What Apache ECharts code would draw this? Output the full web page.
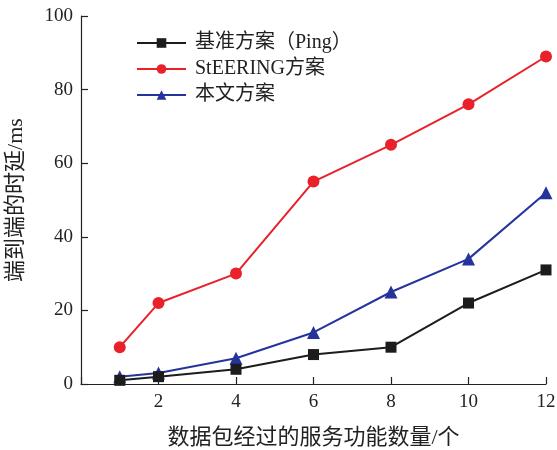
<!DOCTYPE html>
<html>
<head>
<meta charset="utf-8">
<script src="https://cdn.jsdelivr.net/npm/echarts@6/dist/echarts.min.js"></script>
<style>
  html, body { margin: 0; padding: 0; background: #fff; }
  #chart { width: 557px; height: 450px; }
</style>
</head>
<body>
<div id="chart"></div>
<script>
// Number of service functions traversed
const functionCounts = [1, 2, 4, 6, 8, 10, 12];
// End-to-end latency (ms) per scheme
const baselinePing = [1, 2, 4, 8, 10, 22, 31];
const steering = [10, 22, 30, 55, 65, 76, 89];
const proposed = [2, 3, 7, 14, 25, 34, 52];

const seriesNames = ['基准方案（Ping）', 'StEERING方案', '本文方案'];
const xAxisName = '数据包经过的服务功能数量/个';
const yAxisName = '端到端的时延/ms';

const serif = '"Liberation Serif", "DejaVu Serif", "Noto Sans CJK SC", serif';
const cjk = '"Liberation Serif", "Noto Sans CJK SC", serif';

function pairs(ys) {
  return functionCounts.map((x, i) => [x, ys[i]]);
}

const chart = echarts.init(document.getElementById('chart'));
chart.setOption({
  animation: false,
  backgroundColor: '#fff',
  grid: {
    left: 81, right: 11, top: 16, bottom: 66,
    containLabel: false,
    outerBoundsMode: 'none'
  },
  legend: {
    orient: 'vertical',
    left: 136,
    top: 33,
    padding: 0,
    itemWidth: 49,
    itemHeight: 12,
    itemGap: 6,
    textStyle: { fontFamily: cjk, fontSize: 20, color: '#222', padding: [0, 0, 0, 4] },
    data: seriesNames
  },
  xAxis: {
    type: 'value',
    min: 0,
    max: 12,
    interval: 2,
    name: xAxisName,
    nameLocation: 'middle',
    nameGap: 43,
    nameTextStyle: { fontFamily: cjk, fontSize: 22, color: '#222' },
    axisLine: { lineStyle: { color: '#222', width: 1.2 } },
    axisTick: { inside: true, length: 7, lineStyle: { color: '#222', width: 1.2 } },
    axisLabel: {
      fontFamily: serif, fontSize: 19, color: '#222', margin: 9,
      formatter: v => (v === 0 ? '' : String(v))
    },
    splitLine: { show: false }
  },
  yAxis: {
    type: 'value',
    min: 0,
    max: 100,
    interval: 20,
    name: yAxisName,
    nameLocation: 'middle',
    nameGap: 54,
    nameTextStyle: { fontFamily: cjk, fontSize: 22, color: '#222' },
    axisLine: { show: true, lineStyle: { color: '#222', width: 1.2 } },
    axisTick: { show: true, inside: true, length: 7, lineStyle: { color: '#222', width: 1.2 } },
    axisLabel: { fontFamily: serif, fontSize: 19, color: '#222', margin: 8 },
    splitLine: { show: false }
  },
  series: [
    {
      name: seriesNames[0],
      type: 'line',
      data: pairs(baselinePing),
      symbol: 'rect',
      symbolSize: 11,
      color: '#1c1c1c',
      lineStyle: { width: 2, color: '#1c1c1c' },
      itemStyle: { color: '#1c1c1c' },
      z: 3
    },
    {
      name: seriesNames[1],
      type: 'line',
      data: pairs(steering),
      symbol: 'circle',
      symbolSize: 12,
      color: '#e8212b',
      lineStyle: { width: 2, color: '#e8212b' },
      itemStyle: { color: '#e8212b' },
      z: 2
    },
    {
      name: seriesNames[2],
      type: 'line',
      data: pairs(proposed),
      symbol: 'triangle',
      symbolSize: 13,
      color: '#25339b',
      lineStyle: { width: 2, color: '#25339b' },
      itemStyle: { color: '#25339b' },
      z: 2
    }
  ]
});
</script>
</body>
</html>
